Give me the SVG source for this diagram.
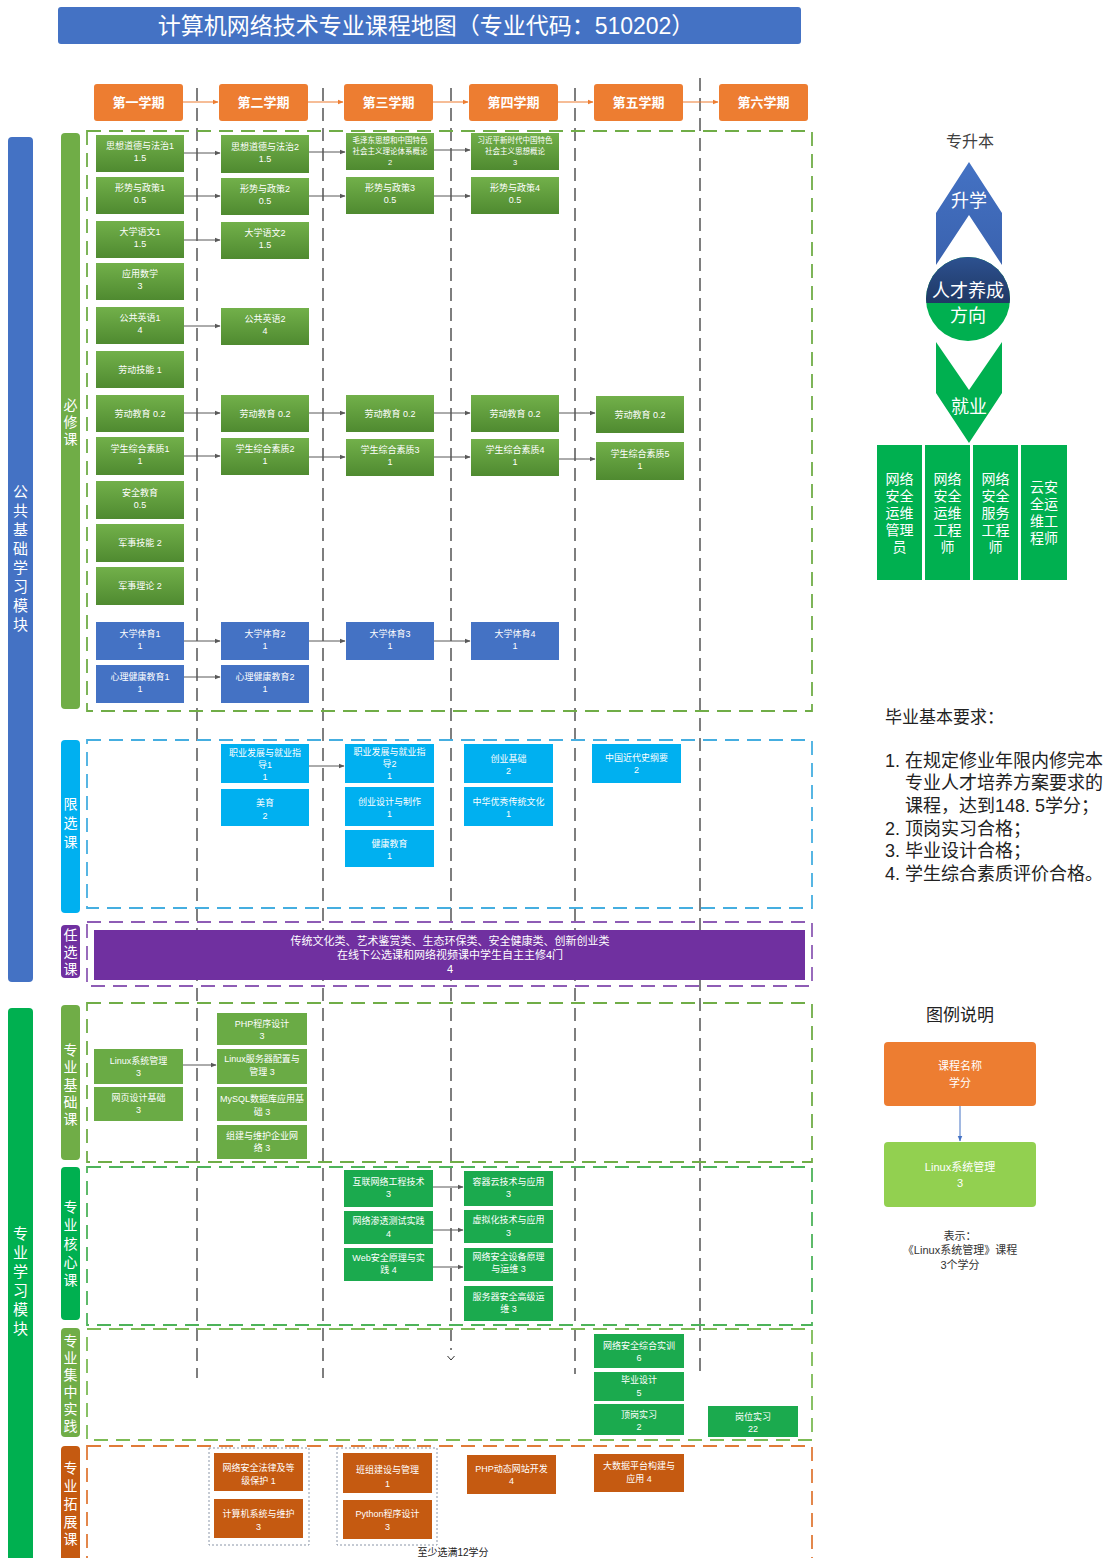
<svg xmlns="http://www.w3.org/2000/svg" width="1114" height="1558" viewBox="0 0 1114 1558">
<style>
text{font-family:"Liberation Sans","Noto Sans CJK SC",sans-serif}
.w{fill:#fff;text-anchor:middle;font-size:9px}
.s{font-size:7.5px}
.hd{fill:#fff;text-anchor:middle;font-size:13px;font-weight:bold}
.lb{fill:#fff;text-anchor:middle;font-size:14px}
.big{fill:#fff;text-anchor:middle;font-size:15px}
.g{fill:url(#gg)}
.b{fill:#4472C4}
.l{fill:#00B0F0}
.gb{fill:#6AAB45}
.gc{fill:#1BAA4E}
.o{fill:#C55A11}
.sep{stroke:#3a3a3a;stroke-width:1.3;stroke-dasharray:13 7;fill:none}
.sec{fill:none;stroke-width:1.8;stroke-dasharray:14 8}
.con{stroke:#595959;stroke-width:1;fill:none;marker-end:url(#ag)}
.hcon{stroke:#ED7D31;stroke-width:1.2;fill:none;marker-end:url(#ao)}
.dk{fill:#222}
.job{fill:#fff;text-anchor:middle;font-size:14px}
</style>
<defs>
<linearGradient id="gg" x1="0" y1="0" x2="0" y2="1"><stop offset="0" stop-color="#72B04A"/><stop offset="1" stop-color="#4F8A30"/></linearGradient>
<linearGradient id="bu" x1="0" y1="0" x2="0" y2="1"><stop offset="0" stop-color="#4472C4"/><stop offset="1" stop-color="#3A62AE"/></linearGradient>
<linearGradient id="nv" x1="0" y1="0" x2="0" y2="1"><stop offset="0" stop-color="#2F5597"/><stop offset="1" stop-color="#1F3864"/></linearGradient>
<marker id="ag" viewBox="0 0 10 10" refX="9" refY="5" markerWidth="6" markerHeight="6" orient="auto"><path d="M0,1 L10,5 L0,9 z" fill="#595959"/></marker>
<marker id="ao" viewBox="0 0 10 10" refX="9" refY="5" markerWidth="5" markerHeight="5" orient="auto"><path d="M0,1 L10,5 L0,9 z" fill="#ED7D31"/></marker>
<marker id="ab" viewBox="0 0 10 10" refX="9" refY="5" markerWidth="6" markerHeight="6" orient="auto"><path d="M0,1 L10,5 L0,9 z" fill="#4472C4"/></marker>
<clipPath id="cc"><circle cx="968" cy="299" r="42"/></clipPath>
</defs>

<g id="title"><rect x="58" y="7" width="743" height="37" rx="3" fill="#4472C4"/><text x="426" y="34" fill="#fff" text-anchor="middle" font-size="23">计算机网络技术专业课程地图（专业代码：510202）</text></g>

<g id="separators">
<line class="sep" x1="197" y1="88" x2="197" y2="1378"/>
<line class="sep" x1="323" y1="88" x2="323" y2="1378"/>
<line class="sep" x1="451" y1="88" x2="451" y2="1350"/>
<line class="sep" x1="575" y1="88" x2="575" y2="1374"/>
<line class="sep" x1="700" y1="78" x2="700" y2="1378"/>
<polyline points="447.5,1356 451,1360 454.5,1356" fill="none" stroke="#333" stroke-width="1"/>
</g>

<g id="sections">
<rect class="sec" x="87" y="131" width="725" height="580" stroke="#70AD47"/>
<rect class="sec" x="87" y="740" width="725" height="168" stroke="#45AEE0"/>
<rect class="sec" x="87" y="922" width="725" height="64" stroke="#8E5CB5"/>
<rect class="sec" x="87" y="1003" width="725" height="159" stroke="#70AD47"/>
<rect class="sec" x="87" y="1167" width="725" height="158" stroke="#4DB35A"/>
<rect class="sec" x="87" y="1329" width="725" height="111" stroke="#7DBB55"/>
<rect class="sec" x="87" y="1446" width="725" height="118" stroke="#E07B39"/>
</g>

<g id="headers">
<g id="h1"><rect x="94" y="84" width="89" height="37" rx="3" fill="#ED7D31"/><text class="hd" x="138.5" y="107">第一学期</text></g>
<g id="h2"><rect x="219" y="84" width="89" height="37" rx="3" fill="#ED7D31"/><text class="hd" x="263.5" y="107">第二学期</text></g>
<g id="h3"><rect x="344" y="84" width="89" height="37" rx="3" fill="#ED7D31"/><text class="hd" x="388.5" y="107">第三学期</text></g>
<g id="h4"><rect x="469" y="84" width="89" height="37" rx="3" fill="#ED7D31"/><text class="hd" x="513.5" y="107">第四学期</text></g>
<g id="h5"><rect x="594" y="84" width="89" height="37" rx="3" fill="#ED7D31"/><text class="hd" x="638.5" y="107">第五学期</text></g>
<g id="h6"><rect x="719" y="84" width="89" height="37" rx="3" fill="#ED7D31"/><text class="hd" x="763.5" y="107">第六学期</text></g>
</g>

<g id="labels">
<g id="m1"><rect x="8" y="137" width="25" height="845" rx="4" fill="#4472C4"/><text class="big"><tspan x="20.5" y="497">公</tspan><tspan x="20.5" y="516">共</tspan><tspan x="20.5" y="535">基</tspan><tspan x="20.5" y="554">础</tspan><tspan x="20.5" y="573">学</tspan><tspan x="20.5" y="592">习</tspan><tspan x="20.5" y="611">模</tspan><tspan x="20.5" y="630">块</tspan></text></g>
<g id="m2"><rect x="8" y="1008" width="25" height="560" rx="4" fill="#00B050"/><text class="big"><tspan x="20.5" y="1239">专</tspan><tspan x="20.5" y="1258">业</tspan><tspan x="20.5" y="1277">学</tspan><tspan x="20.5" y="1296">习</tspan><tspan x="20.5" y="1315">模</tspan><tspan x="20.5" y="1334">块</tspan></text></g>
<g id="k1"><rect x="61" y="133" width="19" height="576" rx="4" fill="#70AD47"/><text class="lb"><tspan x="70.5" y="410">必</tspan><tspan x="70.5" y="427">修</tspan><tspan x="70.5" y="444">课</tspan></text></g>
<g id="k2"><rect x="61" y="740" width="19" height="173" rx="4" fill="#00B0F0"/><text class="lb"><tspan x="70.5" y="809">限</tspan><tspan x="70.5" y="828">选</tspan><tspan x="70.5" y="847">课</tspan></text></g>
<g id="k3"><rect x="61" y="925" width="19" height="53" rx="4" fill="#7030A0"/><text class="lb"><tspan x="70.5" y="940">任</tspan><tspan x="70.5" y="957">选</tspan><tspan x="70.5" y="974">课</tspan></text></g>
<g id="k4"><rect x="61" y="1005" width="19" height="155" rx="4" fill="#70AD47"/><text class="lb"><tspan x="70.5" y="1055">专</tspan><tspan x="70.5" y="1072">业</tspan><tspan x="70.5" y="1090">基</tspan><tspan x="70.5" y="1107">础</tspan><tspan x="70.5" y="1124">课</tspan></text></g>
<g id="k5"><rect x="61" y="1167" width="19" height="153" rx="4" fill="#00B050"/><text class="lb"><tspan x="70.5" y="1212">专</tspan><tspan x="70.5" y="1230">业</tspan><tspan x="70.5" y="1249">核</tspan><tspan x="70.5" y="1267">心</tspan><tspan x="70.5" y="1285">课</tspan></text></g>
<g id="k6"><rect x="61" y="1328" width="19" height="109" rx="4" fill="#70AD47"/><text class="lb" font-size="13"><tspan x="70.5" y="1346">专</tspan><tspan x="70.5" y="1363">业</tspan><tspan x="70.5" y="1380">集</tspan><tspan x="70.5" y="1397">中</tspan><tspan x="70.5" y="1414">实</tspan><tspan x="70.5" y="1431">践</tspan></text></g>
<g id="k7"><rect x="61" y="1446" width="19" height="120" rx="4" fill="#C55A11"/><text class="lb"><tspan x="70.5" y="1473">专</tspan><tspan x="70.5" y="1491">业</tspan><tspan x="70.5" y="1509">拓</tspan><tspan x="70.5" y="1527">展</tspan><tspan x="70.5" y="1544">课</tspan></text></g>
</g>

<g id="opt"><rect x="94" y="930" width="711" height="50" fill="#7030A0"/><text fill="#fff" text-anchor="middle" font-size="11"><tspan x="450" y="945">传统文化类、艺术鉴赏类、生态环保类、安全健康类、创新创业类</tspan><tspan x="450" y="959">在线下公选课和网络视频课中学生自主主修4门</tspan><tspan x="450" y="973">4</tspan></text></g>

<g id="connectors">
<line class="hcon" x1="183" y1="102" x2="218" y2="102"/>
<line class="hcon" x1="308" y1="102" x2="343" y2="102"/>
<line class="hcon" x1="433" y1="102" x2="468" y2="102"/>
<line class="hcon" x1="558" y1="102" x2="593" y2="102"/>
<line class="hcon" x1="683" y1="102" x2="718" y2="102"/>
<line class="con" x1="184" y1="153" x2="220" y2="153"/>
<line class="con" x1="309" y1="152" x2="345" y2="152"/>
<line class="con" x1="434" y1="150" x2="470" y2="150"/>
<line class="con" x1="184" y1="196" x2="220" y2="196"/>
<line class="con" x1="309" y1="196" x2="345" y2="196"/>
<line class="con" x1="434" y1="196" x2="470" y2="196"/>
<line class="con" x1="184" y1="240" x2="220" y2="240"/>
<line class="con" x1="184" y1="326" x2="220" y2="326"/>
<line class="con" x1="184" y1="413" x2="220" y2="413"/>
<line class="con" x1="309" y1="413" x2="345" y2="413"/>
<line class="con" x1="434" y1="413" x2="470" y2="413"/>
<line class="con" x1="559" y1="413" x2="595" y2="413"/>
<line class="con" x1="184" y1="456" x2="220" y2="456"/>
<line class="con" x1="309" y1="457" x2="345" y2="457"/>
<line class="con" x1="434" y1="457" x2="470" y2="457"/>
<line class="con" x1="559" y1="459" x2="595" y2="459"/>
<line class="con" x1="184" y1="641" x2="220" y2="641"/>
<line class="con" x1="309" y1="641" x2="345" y2="641"/>
<line class="con" x1="434" y1="641" x2="470" y2="641"/>
<line class="con" x1="184" y1="677" x2="220" y2="677"/>
<line class="con" x1="309" y1="766" x2="344" y2="766"/>
<line class="con" x1="183" y1="1065" x2="216" y2="1065"/>
<line class="con" x1="433" y1="1187" x2="463" y2="1187"/>
<line class="con" x1="433" y1="1230" x2="463" y2="1230"/>
<line class="con" x1="433" y1="1267" x2="463" y2="1267"/>
<line x1="960" y1="1106" x2="960" y2="1141" stroke="#4472C4" stroke-width="1" marker-end="url(#ab)"/>
</g>

<g id="required">
<g id="r1"><rect class="g" x="96" y="135" width="88" height="37"/><text class="w"><tspan x="140" y="149">思想道德与法治1</tspan><tspan x="140" y="161">1.5</tspan></text></g>
<g id="r2"><rect class="g" x="96" y="177" width="88" height="37"/><text class="w"><tspan x="140" y="191">形势与政策1</tspan><tspan x="140" y="203">0.5</tspan></text></g>
<g id="r3"><rect class="g" x="96" y="221" width="88" height="37"/><text class="w"><tspan x="140" y="235">大学语文1</tspan><tspan x="140" y="247">1.5</tspan></text></g>
<g id="r4"><rect class="g" x="96" y="263" width="88" height="37"/><text class="w"><tspan x="140" y="277">应用数学</tspan><tspan x="140" y="289">3</tspan></text></g>
<g id="r5"><rect class="g" x="96" y="307" width="88" height="37"/><text class="w"><tspan x="140" y="321">公共英语1</tspan><tspan x="140" y="333">4</tspan></text></g>
<g id="r6"><rect class="g" x="96" y="351" width="88" height="37"/><text class="w" x="140" y="373">劳动技能  1</text></g>
<g id="r7"><rect class="g" x="96" y="395" width="88" height="37"/><text class="w" x="140" y="417">劳动教育  0.2</text></g>
<g id="r8"><rect class="g" x="96" y="437" width="88" height="38"/><text class="w"><tspan x="140" y="452">学生综合素质1</tspan><tspan x="140" y="464">1</tspan></text></g>
<g id="r9"><rect class="g" x="96" y="481" width="88" height="38"/><text class="w"><tspan x="140" y="496">安全教育</tspan><tspan x="140" y="508">0.5</tspan></text></g>
<g id="r10"><rect class="g" x="96" y="524" width="88" height="38"/><text class="w" x="140" y="546">军事技能  2</text></g>
<g id="r11"><rect class="g" x="96" y="567" width="88" height="38"/><text class="w" x="140" y="589">军事理论  2</text></g>
<g id="r12"><rect class="b" x="96" y="622" width="88" height="38"/><text class="w"><tspan x="140" y="637">大学体育1</tspan><tspan x="140" y="649">1</tspan></text></g>
<g id="r13"><rect class="b" x="96" y="665" width="88" height="38"/><text class="w"><tspan x="140" y="680">心理健康教育1</tspan><tspan x="140" y="692">1</tspan></text></g>

<g id="r21"><rect class="g" x="221" y="135" width="88" height="38"/><text class="w"><tspan x="265" y="150">思想道德与法治2</tspan><tspan x="265" y="162">1.5</tspan></text></g>
<g id="r22"><rect class="g" x="221" y="178" width="88" height="37"/><text class="w"><tspan x="265" y="192">形势与政策2</tspan><tspan x="265" y="204">0.5</tspan></text></g>
<g id="r23"><rect class="g" x="221" y="222" width="88" height="37"/><text class="w"><tspan x="265" y="236">大学语文2</tspan><tspan x="265" y="248">1.5</tspan></text></g>
<g id="r24"><rect class="g" x="221" y="308" width="88" height="37"/><text class="w"><tspan x="265" y="322">公共英语2</tspan><tspan x="265" y="334">4</tspan></text></g>
<g id="r25"><rect class="g" x="221" y="395" width="88" height="37"/><text class="w" x="265" y="417">劳动教育 0.2</text></g>
<g id="r26"><rect class="g" x="221" y="438" width="88" height="37"/><text class="w"><tspan x="265" y="452">学生综合素质2</tspan><tspan x="265" y="464">1</tspan></text></g>
<g id="r27"><rect class="b" x="221" y="622" width="88" height="38"/><text class="w"><tspan x="265" y="637">大学体育2</tspan><tspan x="265" y="649">1</tspan></text></g>
<g id="r28"><rect class="b" x="221" y="665" width="88" height="38"/><text class="w"><tspan x="265" y="680">心理健康教育2</tspan><tspan x="265" y="692">1</tspan></text></g>

<g id="r31"><rect class="g" x="346" y="133" width="88" height="37"/><text class="w s"><tspan x="390" y="143">毛泽东思想和中国特色</tspan><tspan x="390" y="154">社会主义理论体系概论</tspan><tspan x="390" y="165">2</tspan></text></g>
<g id="r32"><rect class="g" x="346" y="177" width="88" height="37"/><text class="w"><tspan x="390" y="191">形势与政策3</tspan><tspan x="390" y="203">0.5</tspan></text></g>
<g id="r33"><rect class="g" x="346" y="395" width="88" height="37"/><text class="w" x="390" y="417">劳动教育  0.2</text></g>
<g id="r34"><rect class="g" x="346" y="439" width="88" height="37"/><text class="w"><tspan x="390" y="453">学生综合素质3</tspan><tspan x="390" y="465">1</tspan></text></g>
<g id="r35"><rect class="b" x="346" y="622" width="88" height="38"/><text class="w"><tspan x="390" y="637">大学体育3</tspan><tspan x="390" y="649">1</tspan></text></g>

<g id="r41"><rect class="g" x="471" y="133" width="88" height="37"/><text class="w s"><tspan x="515" y="143">习近平新时代中国特色</tspan><tspan x="515" y="154">社会主义思想概论</tspan><tspan x="515" y="165">3</tspan></text></g>
<g id="r42"><rect class="g" x="471" y="177" width="88" height="37"/><text class="w"><tspan x="515" y="191">形势与政策4</tspan><tspan x="515" y="203">0.5</tspan></text></g>
<g id="r43"><rect class="g" x="471" y="395" width="88" height="37"/><text class="w" x="515" y="417">劳动教育  0.2</text></g>
<g id="r44"><rect class="g" x="471" y="439" width="88" height="37"/><text class="w"><tspan x="515" y="453">学生综合素质4</tspan><tspan x="515" y="465">1</tspan></text></g>
<g id="r45"><rect class="b" x="471" y="622" width="88" height="38"/><text class="w"><tspan x="515" y="637">大学体育4</tspan><tspan x="515" y="649">1</tspan></text></g>

<g id="r51"><rect class="g" x="596" y="396" width="88" height="37"/><text class="w" x="640" y="418">劳动教育  0.2</text></g>
<g id="r52"><rect class="g" x="596" y="442" width="88" height="38"/><text class="w"><tspan x="640" y="457">学生综合素质5</tspan><tspan x="640" y="469">1</tspan></text></g>
</g>

<g id="limited">
<g id="x1"><rect class="l" x="221" y="744" width="88" height="39"/><text class="w"><tspan x="265" y="756">职业发展与就业指</tspan><tspan x="265" y="768">导1</tspan><tspan x="265" y="780">1</tspan></text></g>
<g id="x2"><rect class="l" x="221" y="789" width="88" height="37"/><text class="w"><tspan x="265" y="806">美育</tspan><tspan x="265" y="819">2</tspan></text></g>
<g id="x3"><rect class="l" x="345" y="744" width="89" height="39"/><text class="w"><tspan x="389.5" y="755">职业发展与就业指</tspan><tspan x="389.5" y="767">导2</tspan><tspan x="389.5" y="779">1</tspan></text></g>
<g id="x4"><rect class="l" x="345" y="787" width="89" height="39"/><text class="w"><tspan x="389.5" y="805">创业设计与制作</tspan><tspan x="389.5" y="817">1</tspan></text></g>
<g id="x5"><rect class="l" x="345" y="830" width="89" height="37"/><text class="w"><tspan x="389.5" y="847">健康教育</tspan><tspan x="389.5" y="859">1</tspan></text></g>
<g id="x6"><rect class="l" x="464" y="744" width="89" height="39"/><text class="w"><tspan x="508.5" y="762">创业基础</tspan><tspan x="508.5" y="774">2</tspan></text></g>
<g id="x7"><rect class="l" x="464" y="787" width="89" height="39"/><text class="w"><tspan x="508.5" y="805">中华优秀传统文化</tspan><tspan x="508.5" y="817">1</tspan></text></g>
<g id="x8"><rect class="l" x="592" y="744" width="89" height="39"/><text class="w"><tspan x="636.5" y="761">中国近代史纲要</tspan><tspan x="636.5" y="773">2</tspan></text></g>
</g>

<g id="base">
<g id="p1"><rect class="gb" x="94" y="1049" width="89" height="35"/><text class="w"><tspan x="138.5" y="1064">Linux系统管理</tspan><tspan x="138.5" y="1076">3</tspan></text></g>
<g id="p2"><rect class="gb" x="94" y="1087" width="89" height="34"/><text class="w"><tspan x="138.5" y="1101">网页设计基础</tspan><tspan x="138.5" y="1113">3</tspan></text></g>
<g id="p3"><rect class="gb" x="217" y="1013" width="90" height="32"/><text class="w"><tspan x="262" y="1027">PHP程序设计</tspan><tspan x="262" y="1039">3</tspan></text></g>
<g id="p4"><rect class="gb" x="217" y="1049" width="90" height="35"/><text class="w"><tspan x="262" y="1062">Linux服务器配置与</tspan><tspan x="262" y="1075">管理 3</tspan></text></g>
<g id="p5"><rect class="gb" x="217" y="1087" width="90" height="34"/><text class="w"><tspan x="262" y="1102">MySQL数据库应用基</tspan><tspan x="262" y="1115">础 3</tspan></text></g>
<g id="p6"><rect class="gb" x="217" y="1125" width="90" height="34"/><text class="w"><tspan x="262" y="1139">组建与维护企业网</tspan><tspan x="262" y="1151">络 3</tspan></text></g>
</g>

<g id="core">
<g id="c1"><rect class="gc" x="344" y="1170" width="89" height="37"/><text class="w"><tspan x="388.5" y="1185">互联网络工程技术</tspan><tspan x="388.5" y="1197">3</tspan></text></g>
<g id="c2"><rect class="gc" x="344" y="1211" width="89" height="33"/><text class="w"><tspan x="388.5" y="1224">网络渗透测试实践</tspan><tspan x="388.5" y="1237">4</tspan></text></g>
<g id="c3"><rect class="gc" x="344" y="1248" width="89" height="33"/><text class="w"><tspan x="388.5" y="1261">Web安全原理与实</tspan><tspan x="388.5" y="1273">践 4</tspan></text></g>
<g id="c4"><rect class="gc" x="464" y="1171" width="89" height="35"/><text class="w"><tspan x="508.5" y="1185">容器云技术与应用</tspan><tspan x="508.5" y="1197">3</tspan></text></g>
<g id="c5"><rect class="gc" x="464" y="1210" width="89" height="33"/><text class="w"><tspan x="508.5" y="1223">虚拟化技术与应用</tspan><tspan x="508.5" y="1236">3</tspan></text></g>
<g id="c6"><rect class="gc" x="464" y="1248" width="89" height="33"/><text class="w"><tspan x="508.5" y="1260">网络安全设备原理</tspan><tspan x="508.5" y="1272">与运维 3</tspan></text></g>
<g id="c7"><rect class="gc" x="464" y="1286" width="89" height="35"/><text class="w"><tspan x="508.5" y="1300">服务器安全高级运</tspan><tspan x="508.5" y="1312">维 3</tspan></text></g>
</g>

<g id="practice">
<g id="q1"><rect class="gc" x="594" y="1334" width="90" height="34"/><text class="w"><tspan x="639" y="1349">网络安全综合实训</tspan><tspan x="639" y="1361">6</tspan></text></g>
<g id="q2"><rect class="gc" x="594" y="1372" width="90" height="29"/><text class="w"><tspan x="639" y="1383">毕业设计</tspan><tspan x="639" y="1396">5</tspan></text></g>
<g id="q3"><rect class="gc" x="594" y="1404" width="90" height="31"/><text class="w"><tspan x="639" y="1418">顶岗实习</tspan><tspan x="639" y="1430">2</tspan></text></g>
<g id="q4"><rect class="gc" x="708" y="1406" width="90" height="31"/><text class="w"><tspan x="753" y="1420">岗位实习</tspan><tspan x="753" y="1432">22</tspan></text></g>
</g>

<g id="extension">
<rect x="209" y="1448" width="100" height="97" fill="none" stroke="#8a96a8" stroke-width="1" stroke-dasharray="2 2"/>
<rect x="337" y="1448" width="100" height="97" fill="none" stroke="#8a96a8" stroke-width="1" stroke-dasharray="2 2"/>
<g id="e1"><rect class="o" x="214" y="1453" width="89" height="38"/><text class="w"><tspan x="258.5" y="1471">网络安全法律及等</tspan><tspan x="258.5" y="1484">级保护 1</tspan></text></g>
<g id="e2"><rect class="o" x="214" y="1499" width="89" height="39"/><text class="w"><tspan x="258.5" y="1517">计算机系统与维护</tspan><tspan x="258.5" y="1530">3</tspan></text></g>
<g id="e3"><rect class="o" x="343" y="1453" width="89" height="40"/><text class="w"><tspan x="387.5" y="1473">班组建设与管理</tspan><tspan x="387.5" y="1487">1</tspan></text></g>
<g id="e4"><rect class="o" x="343" y="1500" width="89" height="39"/><text class="w"><tspan x="387.5" y="1517">Python程序设计</tspan><tspan x="387.5" y="1530">3</tspan></text></g>
<g id="e5"><rect class="o" x="467" y="1455" width="89" height="39"/><text class="w"><tspan x="511.5" y="1472">PHP动态网站开发</tspan><tspan x="511.5" y="1484">4</tspan></text></g>
<g id="e6"><rect class="o" x="594" y="1454" width="90" height="38"/><text class="w"><tspan x="639" y="1469">大数据平台构建与</tspan><tspan x="639" y="1482">应用 4</tspan></text></g>
<text class="dk" x="453" y="1556" text-anchor="middle" font-size="10">至少选满12学分</text>
</g>

<g id="direction">
<text x="970" y="147" fill="#404040" text-anchor="middle" font-size="16">专升本</text>
<polygon points="969,162 1002,213 1002,265 969,215 936,265 936,213" fill="url(#bu)"/>
<text x="969" y="207" fill="#fff" text-anchor="middle" font-size="18">升学</text>
<polygon points="936,342 969,390 1002,342 1002,393 969,443 936,393" fill="#00B050"/>
<text x="969" y="413" fill="#fff" text-anchor="middle" font-size="18">就业</text>
<circle cx="968" cy="299" r="42" fill="#00B050"/>
<rect x="920" y="250" width="100" height="53" fill="url(#nv)" clip-path="url(#cc)"/>
<text x="968" y="297" fill="#fff" text-anchor="middle" font-size="18">人才养成</text>
<text x="968" y="322" fill="#fff" text-anchor="middle" font-size="18">方向</text>
</g>

<g id="jobs">
<g id="j1"><rect x="877" y="445" width="45" height="135" fill="#00B050"/><text class="job"><tspan x="899.5" y="484">网络</tspan><tspan x="899.5" y="501">安全</tspan><tspan x="899.5" y="518">运维</tspan><tspan x="899.5" y="535">管理</tspan><tspan x="899.5" y="552">员</tspan></text></g>
<g id="j2"><rect x="925" y="445" width="45" height="135" fill="#00B050"/><text class="job"><tspan x="947.5" y="484">网络</tspan><tspan x="947.5" y="501">安全</tspan><tspan x="947.5" y="518">运维</tspan><tspan x="947.5" y="535">工程</tspan><tspan x="947.5" y="552">师</tspan></text></g>
<g id="j3"><rect x="973" y="445" width="45" height="135" fill="#00B050"/><text class="job"><tspan x="995.5" y="484">网络</tspan><tspan x="995.5" y="501">安全</tspan><tspan x="995.5" y="518">服务</tspan><tspan x="995.5" y="535">工程</tspan><tspan x="995.5" y="552">师</tspan></text></g>
<g id="j4"><rect x="1021" y="445" width="46" height="135" fill="#00B050"/><text class="job"><tspan x="1044" y="492">云安</tspan><tspan x="1044" y="509">全运</tspan><tspan x="1044" y="526">维工</tspan><tspan x="1044" y="543">程师</tspan></text></g>
</g>

<g id="requirements" font-size="18" fill="#222">
<text x="885" y="723" font-size="17">毕业基本要求：</text>
<text x="885" y="767">1. 在规定修业年限内修完本</text>
<text x="905" y="789">专业人才培养方案要求的</text>
<text x="905" y="812">课程，达到148. 5学分；</text>
<text x="885" y="835">2. 顶岗实习合格；</text>
<text x="885" y="857">3. 毕业设计合格；</text>
<text x="885" y="880">4. 学生综合素质评价合格。</text>
</g>

<g id="legend">
<text x="960" y="1021" fill="#222" text-anchor="middle" font-size="17">图例说明</text>
<g id="lg1"><rect x="884" y="1042" width="152" height="64" rx="4" fill="#ED7D31"/><text fill="#fff" text-anchor="middle" font-size="11"><tspan x="960" y="1070">课程名称</tspan><tspan x="960" y="1087">学分</tspan></text></g>
<g id="lg2"><rect x="884" y="1142" width="152" height="65" rx="4" fill="#92D050"/><text fill="#fff" text-anchor="middle" font-size="11"><tspan x="960" y="1171">Linux系统管理</tspan><tspan x="960" y="1187">3</tspan></text></g>
<text fill="#333" text-anchor="middle" font-size="11"><tspan x="960" y="1240">表示：</tspan><tspan x="960" y="1254">《Linux系统管理》课程</tspan><tspan x="960" y="1269">3个学分</tspan></text>
</g>
</svg>
